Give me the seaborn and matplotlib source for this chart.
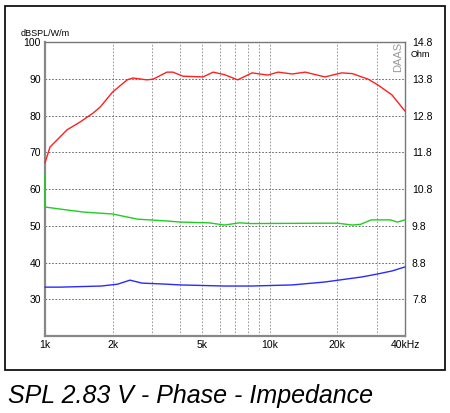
import pandas as pd
import matplotlib
matplotlib.use("Agg")
import matplotlib.pyplot as plt
import seaborn as sns
from matplotlib.patches import Rectangle
from matplotlib.ticker import FixedLocator, NullFormatter

# values (frequency in Hz, level on the dB scale)
spl_freq = [1000, 1052, 1253, 1430, 1640, 1760, 2000, 2320, 2460, 2840, 3030, 3490,
            3710, 4110, 5050, 5600, 6300, 7200, 8350, 9800, 10900, 12600, 14400,
            17600, 20900, 23300, 27400, 30300, 35000, 40000]
spl_db = [67.1, 71.4, 76.1, 78.2, 80.7, 82.3, 86.4, 89.7, 90.2, 89.7, 89.9, 91.8,
          91.8, 90.7, 90.5, 91.8, 91.1, 89.7, 91.6, 91.0, 91.8, 91.3, 91.8,
          90.5, 91.6, 91.4, 89.9, 88.3, 85.6, 81.2]

phase_freq = [1000, 1000, 1250, 1500, 2000, 2580, 3490, 4000, 5350, 6300, 7350, 8250,
              17600, 20000, 23300, 25400, 28300, 34500, 37000, 40000]
phase_db = [64.3, 55.1, 54.3, 53.7, 53.2, 51.8, 51.3, 51.0, 50.8, 50.2, 50.8, 50.6,
            50.7, 50.7, 50.2, 50.4, 51.6, 51.6, 51.0, 51.6]

imp_freq = [1000, 1170, 1780, 2100, 2390, 2700, 3490, 4000, 6300, 8250, 12600, 17600,
            25900, 30300, 35000, 40000]
imp_db = [33.3, 33.3, 33.6, 34.1, 35.2, 34.4, 34.1, 33.9, 33.6, 33.6, 33.9, 34.7,
          36.1, 36.9, 37.7, 38.8]

left_ticks = [30, 40, 50, 60, 70, 80, 90, 100]
right_ticks = [7.8, 8.8, 9.8, 10.8, 11.8, 12.8, 13.8, 14.8]
x_major = [1000, 2000, 5000, 10000, 20000, 40000]
x_labels = ["1k", "2k", "5k", "10k", "20k", "40kHz"]
x_minor = [3000, 4000, 6000, 7000, 8000, 9000, 30000]

sns.set_style("white")
plt.rcParams["font.family"] = ["Liberation Sans", "DejaVu Sans"]
plt.rcParams["text.color"] = "black"
plt.rcParams["xtick.color"] = "black"
plt.rcParams["ytick.color"] = "black"

df = pd.concat([
    pd.DataFrame({"freq": spl_freq, "db": spl_db, "curve": "SPL"}),
    pd.DataFrame({"freq": phase_freq, "db": phase_db, "curve": "Phase"}),
    pd.DataFrame({"freq": imp_freq, "db": imp_db, "curve": "Impedance"}),
])

fig = plt.figure(figsize=(4.5, 4.13), dpi=100)
ax = fig.add_axes([0.1, 0.1864, 0.8, 0.7119])

# data is already in drawing order (the phase curve starts with a vertical drop)
sns.lineplot(data=df, x="freq", y="db", hue="curve", estimator=None, sort=False,
             palette={"SPL": "#ff2020", "Phase": "#22cc22", "Impedance": "#2a2aff"},
             linewidth=1.0, legend=False, zorder=3, clip_on=False, ax=ax)

ax.set_xscale("log")
ax.set_xlim(1000, 40000)
ax.set_ylim(20, 100)
ax.xaxis.set_major_locator(FixedLocator(x_major))
ax.xaxis.set_minor_locator(FixedLocator(x_minor))
ax.xaxis.set_minor_formatter(NullFormatter())
ax.set_xticklabels(x_labels)
ax.set_yticks(left_ticks)
ax.set_xlabel("")
ax.set_ylabel("")
ax.tick_params(axis="both", which="both", length=0, labelsize=7.5, pad=3)

ax.grid(True, which="major", axis="y", linestyle=(0, (2, 2)), color="#555555", linewidth=0.6)
ax.grid(True, which="both", axis="x", linestyle=(0, (2, 2)), color="#888888", linewidth=0.6)

for side in ["top", "right"]:
    ax.spines[side].set_color("#777777")
    ax.spines[side].set_linewidth(1.0)
for side in ["left", "bottom"]:
    ax.spines[side].set_color("#888888")
    ax.spines[side].set_linewidth(1.6)

ax2 = ax.twinx()
ax2.set_ylim(6.8, 14.8)
ax2.set_yticks(right_ticks)
ax2.set_yticklabels([f"{v:.1f}" for v in right_ticks])
ax2.tick_params(axis="y", length=0, labelsize=7.5, pad=5)
for s in ax2.spines.values():
    s.set_visible(False)

fig.text(0.045, 0.92, "dBSPL/W/m", fontsize=6.5, ha="left", va="center")
fig.text(0.913, 0.867, "Ohm", fontsize=6.5, ha="left", va="center")
fig.text(0.884, 0.863, "DAAS", fontsize=8, rotation=90, color="#9a9a9a",
         ha="center", va="center")

fig.patches.append(Rectangle((0.011, 0.104), 0.978, 0.881, transform=fig.transFigure,
                             fill=False, edgecolor="#111111", linewidth=1.3))

fig.text(0.018, 0.04, "SPL 2.83 V - Phase - Impedance", fontsize=18,
         style="italic", ha="left", va="center", color="black")

fig.savefig("out.png", dpi=100)
